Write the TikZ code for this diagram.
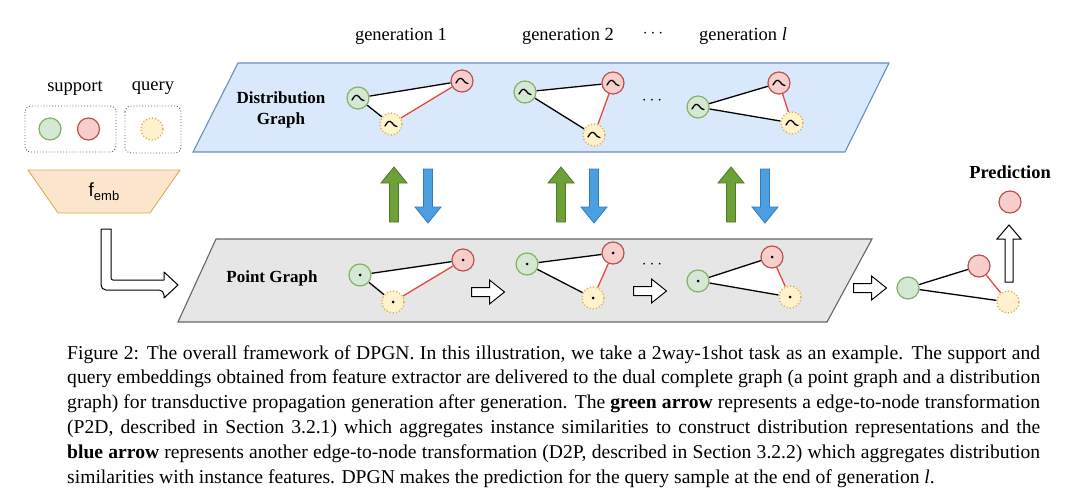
\documentclass[tikz,border=0pt]{standalone}
\usepackage{fontspec}
\setmainfont{Liberation Serif}
\newfontfamily\sansf{Liberation Sans}
\pgfdeclarelayer{planes}
\pgfdeclarelayer{edges}
\pgfsetlayers{planes,edges,main}
\definecolor{distFill}{HTML}{DAE8FC}
\definecolor{distDraw}{HTML}{6C8EBF}
\definecolor{pointFill}{HTML}{E6E6E6}
\definecolor{pointDraw}{HTML}{666666}
\definecolor{gFill}{HTML}{D5E8D4}
\definecolor{gDraw}{HTML}{82B366}
\definecolor{rFill}{HTML}{F8CECC}
\definecolor{rDraw}{HTML}{B85450}
\definecolor{yFill}{HTML}{FFF2CC}
\definecolor{yDraw}{HTML}{D6B656}
\definecolor{embFill}{HTML}{FCE5CD}
\definecolor{embDraw}{RGB}{218,172,95}
\definecolor{edgeRed}{RGB}{232,72,60}
\definecolor{upFill}{RGB}{109,160,55}
\definecolor{upDraw}{RGB}{78,122,38}
\definecolor{downFill}{RGB}{77,160,224}
\definecolor{downDraw}{RGB}{52,122,192}
\definecolor{boxDraw}{RGB}{90,90,90}
\tikzset{
  nd/.style={circle, minimum size=22pt, inner sep=0pt, line width=1.2pt},
  gn/.style={nd, fill=gFill, draw=gDraw},
  rn/.style={nd, fill=rFill, draw=rDraw},
  yn/.style={nd, fill=yFill, draw=yDraw, dotted, line width=1.4pt},
  wave/.style={path picture={\draw[black, solid, line width=1.3pt, line cap=round]
      ([shift={(-6pt,-2pt)}]path picture bounding box.center)
      .. controls +(2.5pt,4.5pt) and +(-2.5pt,3pt) .. ([shift={(1pt,1.2pt)}]path picture bounding box.center)
      .. controls +(1.5pt,-2.2pt) and +(-2pt,0pt) .. ([shift={(6pt,-2.6pt)}]path picture bounding box.center);}},
  pdot/.style={path picture={\fill[black] (path picture bounding box.center) circle (1.5pt);}},
  edgeK/.style={black, line width=1.3pt},
  edgeR/.style={edgeRed, line width=1.3pt},
  hollow/.style={draw=black, fill=white, line width=1pt, line join=miter},
  upar/.style={fill=upFill, draw=upDraw, line width=0.8pt},
  downar/.style={fill=downFill, draw=downDraw, line width=0.8pt},
  lbl/.style={font=\fontsize{18.5}{20}\selectfont, inner sep=0pt},
  blbl/.style={font=\fontsize{17}{20}\selectfont\bfseries, inner sep=0pt, align=center},
}
\newcommand\trio[5]{%
  \node[gn,#5] (#1g) at (#2) {};
  \node[rn,#5] (#1r) at (#3) {};
  \node[yn,#5] (#1y) at (#4) {};
  \begin{pgfonlayer}{edges}
    \fill[white] (#1g.center) -- (#1r.center) -- (#1y.center) -- cycle;
    \draw[edgeK] (#1g) -- (#1r);
    \draw[edgeK] (#1g) -- (#1y);
    \draw[edgeR] (#1r) -- (#1y);
  \end{pgfonlayer}
}
\newcommand\rightarr[2]{%
  \draw[hollow, shift={(#1,#2)}] (-16.5,-4.5) -- (1.5,-4.5) -- (1.5,-12) -- (16.5,0) -- (1.5,12) -- (1.5,4.5) -- (-16.5,4.5) -- cycle;}
\newcommand\greenup[1]{%
  \draw[upar, shift={(#1,0)}] (-4.5,222) -- (-4.5,183) -- (-13,183) -- (0,167) -- (13,183) -- (4.5,183) -- (4.5,222) -- cycle;}
\newcommand\bluedown[1]{%
  \draw[downar, shift={(#1,0)}] (-4.5,169) -- (4.5,169) -- (4.5,207) -- (13,207) -- (0,223) -- (-13,207) -- (-4.5,207) -- cycle;}
\begin{document}
\begin{tikzpicture}[x=1pt, y=-1pt]
\useasboundingbox (0,0) rectangle (1080,503);

% headers
\node[lbl] (g1) at (401,36) {generation 1};
\node[lbl] (g2) at (568,36) {generation 2};
\node[lbl] (gd) at (653,34) {$\cdots$};
\node[lbl] (gl) at (743,36) {generation \textit{l}};

% support / query
\node[lbl] (supl) at (75,88) {support};
\node[lbl] (qul) at (153,88) {query};
\draw[boxDraw, dotted, line width=0.9pt, rounded corners=6pt] (25,106) rectangle (116,152);
\draw[boxDraw, dotted, line width=0.9pt, rounded corners=6pt] (125,106) rectangle (181,153);
\node[gn] (sg) at (50,129) {};
\node[rn] (sr) at (88.5,129) {};
\node[yn] (qy) at (152,129) {};

% embedding
\draw[fill=embFill, draw=embDraw, line width=0.9pt] (28,170) -- (180,170) -- (150,213) -- (58,213) -- cycle;
\node[inner sep=0pt] (emb) at (104,192) {\sansf\fontsize{19}{20}\selectfont f\raisebox{-4pt}{\fontsize{13}{14}\selectfont emb}};

% L arrow
\draw[hollow, line join=round] (106,229) -- (101,229) [rounded corners=5pt] -- (101,290) -- (164,290) [sharp corners] -- (164,298) -- (178,285) -- (164,272) -- (164,280) [rounded corners=2pt] -- (111,280) [sharp corners] -- (111,229) -- cycle;

% planes
\begin{pgfonlayer}{planes}
  \fill[white] (0,0) rectangle (1080,503);
  \draw[fill=distFill, draw=distDraw, line width=1.1pt] (238,63) -- (889,63) -- (845,152) -- (193,152) -- cycle;
  \draw[fill=pointFill, draw=pointDraw, line width=1.1pt] (216,239) -- (872,239) -- (827,322) -- (178,322) -- cycle;
\end{pgfonlayer}

\node[blbl] (dlab) at (281,110) {Distribution\\[1pt]Graph};
\node[blbl] (plab) at (272,278) {Point Graph};

% distribution graphs
\trio{da}{358,98}{462,81}{391,124}{wave}
\trio{db}{525,92}{613,83}{594,135}{wave}
\node[lbl] (dd) at (652,101) {$\cdots$};
\trio{dc}{698,107}{779,83}{792,123}{wave}

% point graphs
\trio{pa}{360,275}{463,260}{393,302}{pdot}
\trio{pb}{527,264}{613,253}{593,298}{pdot}
\node[lbl] (pd) at (652,265) {$\cdots$};
\trio{pc}{698,281}{772,257}{790,297}{pdot}

\rightarr{488}{292}
\rightarr{650}{291}
\rightarr{870}{288}

% transformation arrows
\greenup{394}\bluedown{428}
\greenup{561}\bluedown{594}
\greenup{731}\bluedown{765}

% final
\trio{fa}{908,288}{979,266}{1008,302}{}
\draw[hollow, shift={(1009,0)}] (-4,282) -- (-4,239) -- (-12,239) -- (0,225) -- (12,239) -- (4,239) -- (4,282) -- cycle;
\node[rn] (pred) at (1010,202) {};
\node[font=\fontsize{18.4}{20}\selectfont\bfseries, inner sep=0pt] (predl) at (1010,172) {Prediction};

% caption
\node[anchor=north west, inner sep=0pt, align=left, font=\fontsize{19.6}{24.9}\selectfont] (caption) at (67,345) {%
\makebox[973pt][s]{Figure 2: The overall framework of DPGN. In this illustration, we take a 2way-1shot task as an example. The support and}\\
\makebox[973pt][s]{query embeddings obtained from feature extractor are delivered to the dual complete graph (a point graph and a distribution}\\
\makebox[973pt][s]{graph) for transductive propagation generation after generation. The \textbf{green arrow} represents a edge-to-node transformation}\\
\makebox[973pt][s]{(P2D, described in Section 3.2.1) which aggregates instance similarities to construct distribution representations and the}\\
\makebox[973pt][s]{\textbf{blue arrow} represents another edge-to-node transformation (D2P, described in Section 3.2.2) which aggregates distribution}\\
similarities with instance features. DPGN makes the prediction for the query sample at the end of generation \textit{l}.};
\end{tikzpicture}
\end{document}
